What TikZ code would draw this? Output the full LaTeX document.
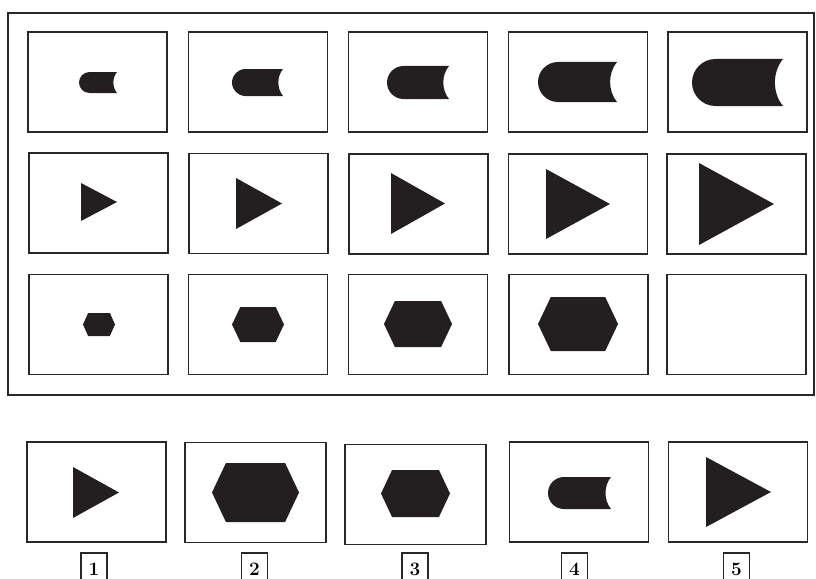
\documentclass[tikz,border=0pt]{standalone}
\usetikzlibrary{positioning}
\definecolor{ink}{RGB}{35,31,32}
\definecolor{rule}{RGB}{40,40,40}

% cx, cy, w, h
\newcommand{\capshape}[4]{%
  \pgfmathsetmacro{\cpL}{#1-#3/2+#4/2}
  \pgfmathsetmacro{\cpR}{#1+#3/2}
  \pgfmathsetmacro{\cpT}{#2-#4/2}
  \pgfmathsetmacro{\cpB}{#2+#4/2}
  \pgfmathsetmacro{\cpW}{#1-#3/2}
  \pgfmathsetmacro{\cpK}{0.276*#4}
  \pgfmathsetmacro{\cpD}{0.23*#4}
  \fill[ink] (\cpR,\cpT) -- (\cpL,\cpT)
    .. controls (\cpL-\cpK,\cpT) and (\cpW,#2-\cpK) .. (\cpW,#2)
    .. controls (\cpW,#2+\cpK) and (\cpL-\cpK,\cpB) .. (\cpL,\cpB)
    -- (\cpR,\cpB)
    .. controls (\cpR-\cpD,#2+0.22*#4) and (\cpR-\cpD,#2-0.22*#4) .. (\cpR,\cpT) -- cycle;
}
% x left, x tip, cy, h
\newcommand{\triright}[4]{%
  \fill[ink] (#1,#3-#4/2) -- (#2,#3) -- (#1,#3+#4/2) -- cycle;
}
% cx, cy, w, h
\newcommand{\hexshape}[4]{%
  \fill[ink] (#1-#3/2,#2) -- (#1-0.34*#3,#2-#4/2) -- (#1+0.34*#3,#2-#4/2)
    -- (#1+#3/2,#2) -- (#1+0.34*#3,#2+#4/2) -- (#1-0.34*#3,#2+#4/2) -- cycle;
}

\begin{document}
\begin{tikzpicture}[
  x=1pt, y=-1pt,
  cell/.style={draw=rule, line width=1.9pt, minimum width=139pt, minimum height=100pt, inner sep=0pt},
  frame/.style={draw=rule, line width=2pt, inner sep=0pt},
  tag/.style={draw=rule, line width=1.6pt, minimum width=26pt, minimum height=32pt, inner sep=0pt,
    font=\fontsize{19}{19}\selectfont\bfseries},
]
\useasboundingbox (0,0) rectangle (816,578);
\clip (0,0) rectangle (816,578);

\node[frame, minimum width=806pt, minimum height=382pt] (panel) at (411,204) {};

% row 1
\node[cell] (a1) at (97.5,82) {};
\node[cell] (a2) at (258,82) {};
\node[cell] (a3) at (418,82) {};
\node[cell] (a4) at (578,82) {};
\node[cell] (a5) at (737.5,82) {};
\capshape{98}{82.5}{38}{21}
\capshape{257.5}{82.5}{51}{27}
\capshape{418}{82.5}{62}{33}
\capshape{577.5}{82}{79}{40}
\capshape{737.5}{82.5}{91}{47}

% row 2
\node[cell] (b1) at (98.5,203) {};
\node[cell] (b2) at (258.5,203.5) {};
\node[cell] (b3) at (418.5,204) {};
\node[cell] (b4) at (578,204) {};
\node[cell] (b5) at (736.5,204) {};
\triright{81}{117}{202}{38}
\triright{236}{282}{203.5}{51}
\triright{391}{445}{203.5}{61}
\triright{546}{610}{204}{70}
\triright{699}{774}{204}{82}

% row 3
\node[cell] (c1) at (98.5,324.5) {};
\node[cell] (c2) at (258,324.5) {};
\node[cell] (c3) at (418,324.5) {};
\node[cell] (c4) at (578.5,324.5) {};
\node[cell] (c5) at (736.5,324.5) {};
\hexshape{99}{324.5}{32}{23}
\hexshape{258}{324.5}{52}{35}
\hexshape{418}{324}{68}{46}
\hexshape{578}{324}{80}{54}

% answers
\node[cell] (o1) at (96.5,492) {};
\node[cell, minimum width=141pt] (o2) at (255.5,492.5) {};
\node[cell, minimum width=141pt] (o3) at (415.5,494.5) {};
\node[cell] (o4) at (579,492) {};
\node[cell] (o5) at (738,492) {};
\triright{73}{119}{492.5}{51}
\hexshape{255.5}{492.5}{87}{59}
\hexshape{415.5}{493.5}{69}{47}
\capshape{579.5}{493}{63}{32}
\triright{706}{771}{492}{70}

\node[tag] (t1) at (94,569) {1};
\node[tag] (t2) at (254.5,569) {2};
\node[tag] (t3) at (415,569) {3};
\node[tag] (t4) at (574.5,569) {4};
\node[tag] (t5) at (736.5,569) {5};
\end{tikzpicture}
\end{document}
